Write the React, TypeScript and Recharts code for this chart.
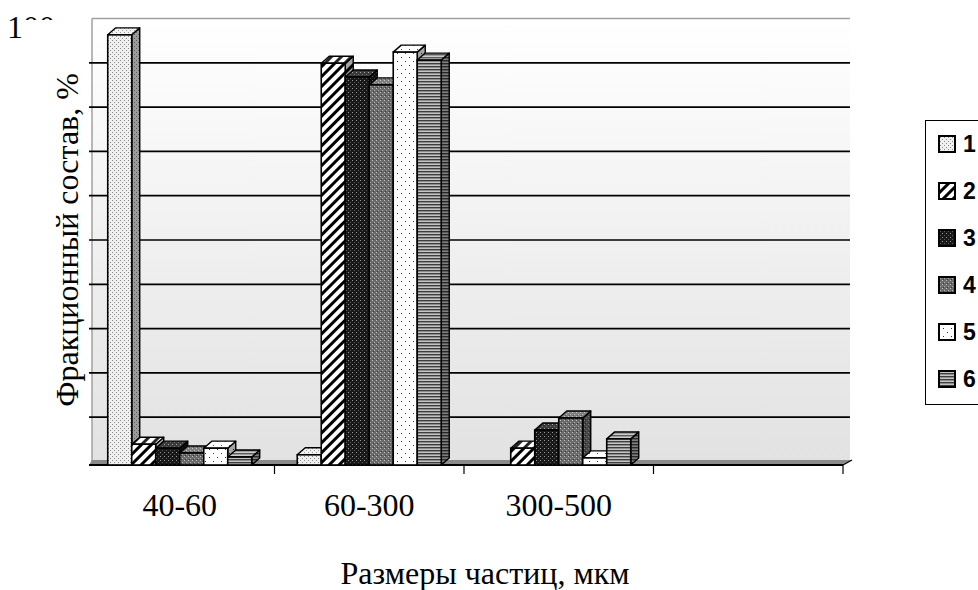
import React from 'react';
import { BarChart, Bar, XAxis, YAxis, CartesianGrid, Label } from 'recharts';

const categories = ['40-60', '60-300', '300-500', ''];
const seriesNames = ['1', '2', '3', '4', '5', '6'];
const s1 = [97.1, 2.3, 0, null];
const s2 = [4.7, 90.7, 3.8, null];
const s3 = [3.8, 87.6, 7.9, null];
const s4 = [2.7, 85.8, 10.6, null];
const s5 = [3.8, 93.2, 1.6, null];
const s6 = [1.8, 91.4, 5.9, null];
const yTicks = [0, 10, 20, 30, 40, 50, 60, 70, 80, 90, 100];

const seriesValues = [s1, s2, s3, s4, s5, s6];
const data = categories.map((c, i) => {
  const row: any = { cat: c };
  seriesValues.forEach((s, k) => { row['s' + (k + 1)] = s[i]; });
  return row;
});

const W = 978, H = 590;
const PLOT = { left: 85, right: 843, top: 22, bottom: 465 };
const BAND = (PLOT.right - PLOT.left) / categories.length;
const DX = 8, DY = 7;
const WALL_DX = 7, WALL_DY = -3.5;
const SERIF = '"Liberation Serif", "Times New Roman", serif';

const Patterns = () => (
  <svg width={0} height={0} style={{ position: 'absolute' }}>
    <defs>
      <pattern id="p1" width="4" height="4" patternUnits="userSpaceOnUse">
        <rect width="4" height="4" fill="#f0f0f0" />
        <rect x="0" y="0" width="1" height="1" fill="#8a8a8a" />
        <rect x="2" y="2" width="1" height="1" fill="#8a8a8a" />
      </pattern>
      <pattern id="p2" width="7" height="7" patternUnits="userSpaceOnUse" patternTransform="rotate(45)">
        <rect width="7" height="7" fill="#ffffff" />
        <rect x="0" y="0" width="3" height="7" fill="#000000" />
      </pattern>
      <pattern id="p3" width="4" height="4" patternUnits="userSpaceOnUse">
        <rect width="4" height="4" fill="#181818" />
        <rect x="0" y="0" width="1" height="1" fill="#9a9a9a" />
        <rect x="2" y="2" width="1" height="1" fill="#5a5a5a" />
      </pattern>
      <pattern id="p4" width="4" height="4" patternUnits="userSpaceOnUse">
        <rect width="4" height="4" fill="#6a6a6a" />
        <rect x="0" y="0" width="1" height="1" fill="#c0c0c0" />
        <rect x="2" y="2" width="1" height="1" fill="#b0b0b0" />
        <rect x="1" y="3" width="1" height="1" fill="#3a3a3a" />
      </pattern>
      <pattern id="p5" width="8" height="8" patternUnits="userSpaceOnUse">
        <rect width="8" height="8" fill="#ffffff" />
        <rect x="1" y="1" width="1" height="1" fill="#333" />
        <rect x="5" y="5" width="1" height="1" fill="#333" />
      </pattern>
      <pattern id="p6" width="4" height="3" patternUnits="userSpaceOnUse">
        <rect width="4" height="3" fill="#8c8c8c" />
        <rect x="0" y="0" width="4" height="1" fill="#3e3e3e" />
        <rect x="0" y="2" width="4" height="1" fill="#c4c4c4" />
      </pattern>
      <linearGradient id="wallGrad" x1="0" y1="0" x2="0" y2="1">
        <stop offset="0" stopColor="#ffffff" />
        <stop offset="1" stopColor="#e2e2e2" />
      </linearGradient>
      <clipPath id="clip100">
        <rect x="0" y="0" width="23" height="60" />
        <rect x="23" y="0" width="60" height="20" />
      </clipPath>
    </defs>
  </svg>
);

const Bar3D = (props: any) => {
  const { x, y, width, height, fill } = props;
  if (height == null || !(height > 0.3)) return <g />;
  const w = width, h = height;
  const top = `${x},${y} ${x + DX},${y - DY} ${x + w + DX},${y - DY} ${x + w},${y}`;
  const side = `${x + w},${y} ${x + w + DX},${y - DY} ${x + w + DX},${y + h - DY} ${x + w},${y + h}`;
  return (
    <g>
      <polygon points={side} fill={fill} />
      <polygon points={side} fill="#000" fillOpacity={0.35} stroke="#000" strokeWidth={1.4} strokeLinejoin="round" />
      <polygon points={top} fill={fill} />
      <polygon points={top} fill="#fff" fillOpacity={0.15} stroke="#000" strokeWidth={1.4} strokeLinejoin="round" />
      <rect x={x} y={y} width={w} height={h} fill={fill} stroke="#000" strokeWidth={1.6} />
    </g>
  );
};

const GridLine = (p: any) => {
  const { x1, x2, y1, index } = p;
  const xs = x1 + WALL_DX, xe = x2 + WALL_DX, yy = y1 + WALL_DY;
  const isTop = Math.abs(y1 - PLOT.top) < 1;
  const isBottom = Math.abs(y1 - PLOT.bottom) < 1;
  const wallTop = PLOT.top + WALL_DY;
  const wallBottom = PLOT.bottom + WALL_DY;
  return (
    <g key={'g' + index}>
      {index === 0 && (
        <g>
          <rect x={xs} y={wallTop} width={xe - xs} height={wallBottom - wallTop} fill="url(#wallGrad)" />
          <line x1={xs} y1={wallTop} x2={xs} y2={wallBottom} stroke="#a0a0a0" strokeWidth={1.5} />
          <polygon
            points={`${x1 + 4},${PLOT.bottom} ${xs},${wallBottom - 1.5} ${xe + 2},${wallBottom - 1.5} ${x2},${PLOT.bottom}`}
            fill="#8a8a8a"
          />
          <line x1={x1 + 4} y1={PLOT.bottom} x2={x2} y2={PLOT.bottom} stroke="#000" strokeWidth={2} />
          <line x1={x2} y1={PLOT.bottom} x2={xe + 2} y2={wallBottom - 1.5} stroke="#000" strokeWidth={1.2} />
        </g>
      )}
      {!isBottom && (
        <line
          x1={isTop ? xs : xs - 3}
          y1={yy}
          x2={xe}
          y2={yy}
          stroke={isTop ? '#a0a0a0' : '#000'}
          strokeWidth={isTop ? 1.5 : 1.7}
        />
      )}
    </g>
  );
};

const YTick = (p: any) => {
  const { y, payload } = p;
  if (payload.value !== 100) return <g />;
  return (
    <text x={7} y={y + 16} fontFamily={SERIF} fontSize={32} fill="#000" clipPath="url(#clip100)">
      100
    </text>
  );
};

const XTick = (p: any) => {
  const { x, payload } = p;
  return (
    <g>
      <text x={x} y={516} textAnchor="middle" fontFamily={SERIF} fontSize={32} fill="#000">
        {payload.value}
      </text>
      <line x1={x + BAND / 2} y1={PLOT.bottom} x2={x + BAND / 2} y2={PLOT.bottom + 9} stroke="#000" strokeWidth={1.2} />
    </g>
  );
};

const YTitle = () => (
  <text
    x={78}
    y={240}
    transform="rotate(-90, 78, 240)"
    textAnchor="middle"
    fontFamily={SERIF}
    fontSize={32}
    fill="#000"
  >
    Фракционный состав, %
  </text>
);

const XTitle = () => (
  <text x={485} y={584} textAnchor="middle" fontFamily={SERIF} fontSize={32} fill="#000">
    Размеры частиц, мкм
  </text>
);

const LegendBox = () => (
  <div
    style={{
      position: 'absolute',
      left: 925,
      top: 120,
      width: 70,
      height: 285,
      borderLeft: '1px solid #000',
      borderTop: '1px solid #000',
      borderBottom: '1px solid #000',
      background: '#fff',
      boxSizing: 'border-box',
    }}
  >
    {seriesNames.map((n, i) => (
      <div key={n} style={{ position: 'absolute', left: 12, top: 12 + 47 * i, height: 22, display: 'flex', alignItems: 'center' }}>
        <svg width={18} height={18} style={{ display: 'block' }}>
          <rect x={1} y={1} width={16} height={16} fill={`url(#p${i + 1})`} stroke="#000" strokeWidth={2} />
        </svg>
        <span
          style={{
            marginLeft: 7,
            fontFamily: '"Liberation Sans", Arial, sans-serif',
            fontWeight: 'bold',
            fontSize: 23,
            lineHeight: '22px',
            color: '#000',
          }}
        >
          {n}
        </span>
      </div>
    ))}
  </div>
);

export default function App() {
  return (
    <div style={{ position: 'absolute', left: 0, top: 0, width: W, height: H, background: '#fff' }}>
      <Patterns />
      <BarChart
        width={W}
        height={H}
        data={data}
        margin={{ top: PLOT.top, right: W - PLOT.right, bottom: 0, left: 0 }}
        barCategoryGap="12%"
        barGap={0}
      >
        <CartesianGrid vertical={false} horizontal={GridLine as any} />
        <XAxis
          dataKey="cat"
          height={H - PLOT.bottom}
          axisLine={false}
          tickLine={false}
          interval={0}
          tick={XTick}
        >
          <Label content={XTitle} />
        </XAxis>
        <YAxis
          width={PLOT.left}
          domain={[0, 100]}
          ticks={yTicks}
          axisLine={false}
          tickLine={false}
          tick={YTick}
        >
          <Label content={YTitle} />
        </YAxis>
        {seriesNames.map((n, i) => (
          <Bar
            key={n}
            dataKey={'s' + (i + 1)}
            name={n}
            fill={`url(#p${i + 1})`}
            shape={Bar3D}
            isAnimationActive={false}
          />
        ))}
      </BarChart>
      <LegendBox />
    </div>
  );
}
